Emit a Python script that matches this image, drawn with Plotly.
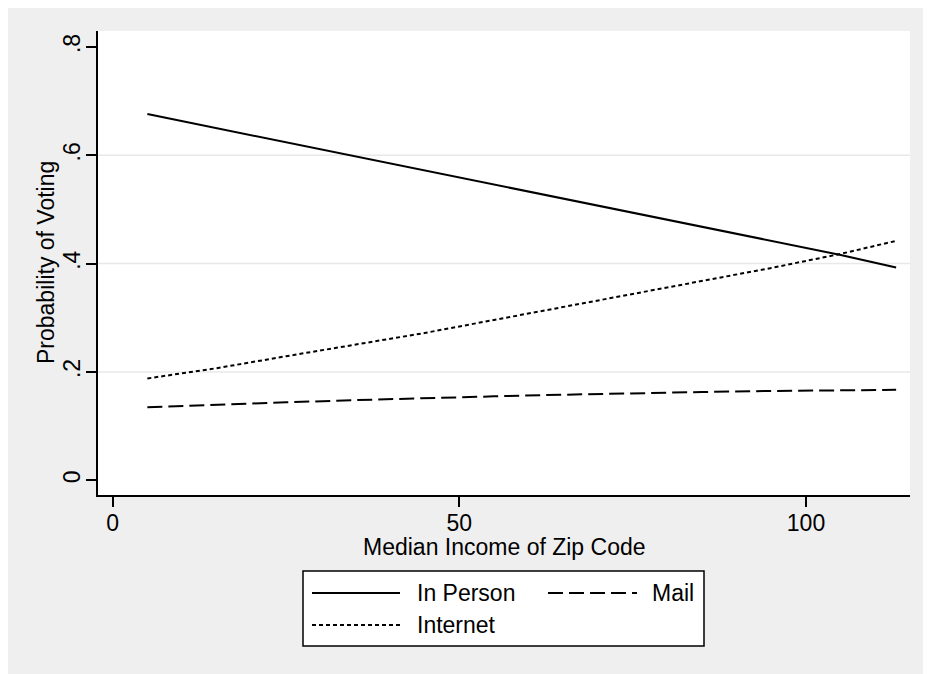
import plotly.graph_objects as go

# Data
income = [5, 15, 25, 35, 45, 55, 65, 75, 85, 95, 105, 113]
in_person = [0.676, 0.650, 0.624, 0.598, 0.572, 0.546, 0.520, 0.494, 0.468, 0.442, 0.416, 0.393]
mail = [0.135, 0.140, 0.144, 0.148, 0.152, 0.155, 0.158, 0.161, 0.163, 0.165, 0.166, 0.167]
internet = [0.188, 0.207, 0.229, 0.250, 0.272, 0.296, 0.320, 0.343, 0.368, 0.392, 0.418, 0.442]

y_ticks = [0, 0.2, 0.4, 0.6, 0.8]
y_ticklabels = ["0", ".2", ".4", ".6", ".8"]
x_ticks = [0, 50, 100]
x_ticklabels = ["0", "50", "100"]
series_names = ["In Person", "Mail", "Internet"]

FONT = "Liberation Sans, Arial, sans-serif"
FS = 23
OFF = 8  # page body margin
W, H = 931 - OFF, 674 - OFF
L, R, T, B = 98 - OFF, 910 - OFF, 31 - OFF, 495 - OFF


def px_x(p):
    # p in page pixels
    return (p - OFF - L) / (R - L)


def px_y(p):
    return (B - (p - OFF)) / (B - T)


DASHES = ["solid", "15px,6px", "4px,3px"]
LW = 2

fig = go.Figure()
for name, vals, dash in zip(series_names, [in_person, mail, internet], DASHES):
    fig.add_trace(go.Scatter(x=income, y=vals, mode="lines", name=name,
                             line=dict(color="black", width=LW, dash=dash),
                             showlegend=False))

shapes = []
# gridlines
for v in y_ticks[1:-1]:
    shapes.append(dict(type="line", xref="paper", yref="y", layer="below",
                       x0=0, x1=1, y0=v, y1=v, line=dict(color="#e8e8e8", width=1.5)))
# legend box
shapes.append(dict(type="rect", xref="paper", yref="paper",
                   x0=px_x(303), x1=px_x(704), y0=px_y(646), y1=px_y(571),
                   fillcolor="white", line=dict(color="black", width=1.5)))
leg_items = [(series_names[0], 312, 400, 415, 593, DASHES[0]),
             (series_names[1], 548, 637, 650, 593, DASHES[1]),
             (series_names[2], 312, 400, 415, 625, DASHES[2])]
annotations = []
for name, lx0, lx1, tx, ty, dash in leg_items:
    shapes.append(dict(type="line", xref="paper", yref="paper",
                       x0=px_x(lx0), x1=px_x(lx1), y0=px_y(ty), y1=px_y(ty),
                       line=dict(color="black", width=LW, dash=dash)))
    annotations.append(dict(text=name, xref="paper", yref="paper", x=px_x(tx), y=px_y(ty),
                            xanchor="left", yanchor="middle", showarrow=False,
                            font=dict(family=FONT, size=FS, color="black")))

annotations.append(dict(text="Median Income of Zip Code", xref="paper", yref="paper",
                        x=0.5, y=px_y(547), xanchor="center", yanchor="middle", showarrow=False,
                        font=dict(family=FONT, size=FS, color="black")))
annotations.append(dict(text="Probability of Voting", xref="paper", yref="paper",
                        x=px_x(46), y=0.5, xanchor="center", yanchor="middle", showarrow=False,
                        textangle=-90, font=dict(family=FONT, size=FS, color="black")))

fig.update_layout(
    width=W, height=H,
    margin=dict(l=L, r=W - R, t=T, b=H - B),
    paper_bgcolor="#efefef", plot_bgcolor="white",
    font=dict(family=FONT, size=FS, color="black"),
    shapes=shapes, annotations=annotations,
    xaxis=dict(range=[-2.12, 115.0], tickvals=x_ticks, ticktext=x_ticklabels,
               showgrid=False, zeroline=False, showline=True, linecolor="black", linewidth=1.5,
               ticks="outside", ticklen=10, tickwidth=1.5, tickcolor="black",
               tickfont=dict(family=FONT, size=FS, color="black"), ticklabelstandoff=-3),
    yaxis=dict(range=[-0.0271, 0.8294], tickvals=y_ticks, ticktext=y_ticklabels,
               showgrid=False, zeroline=False, showline=True, linecolor="black", linewidth=1.5,
               ticks="outside", ticklen=10, tickwidth=1.5, tickcolor="black", tickangle=-90,
               tickfont=dict(family=FONT, size=FS, color="black"), ticklabelstandoff=-3),
)

fig.write_html("out.html")
